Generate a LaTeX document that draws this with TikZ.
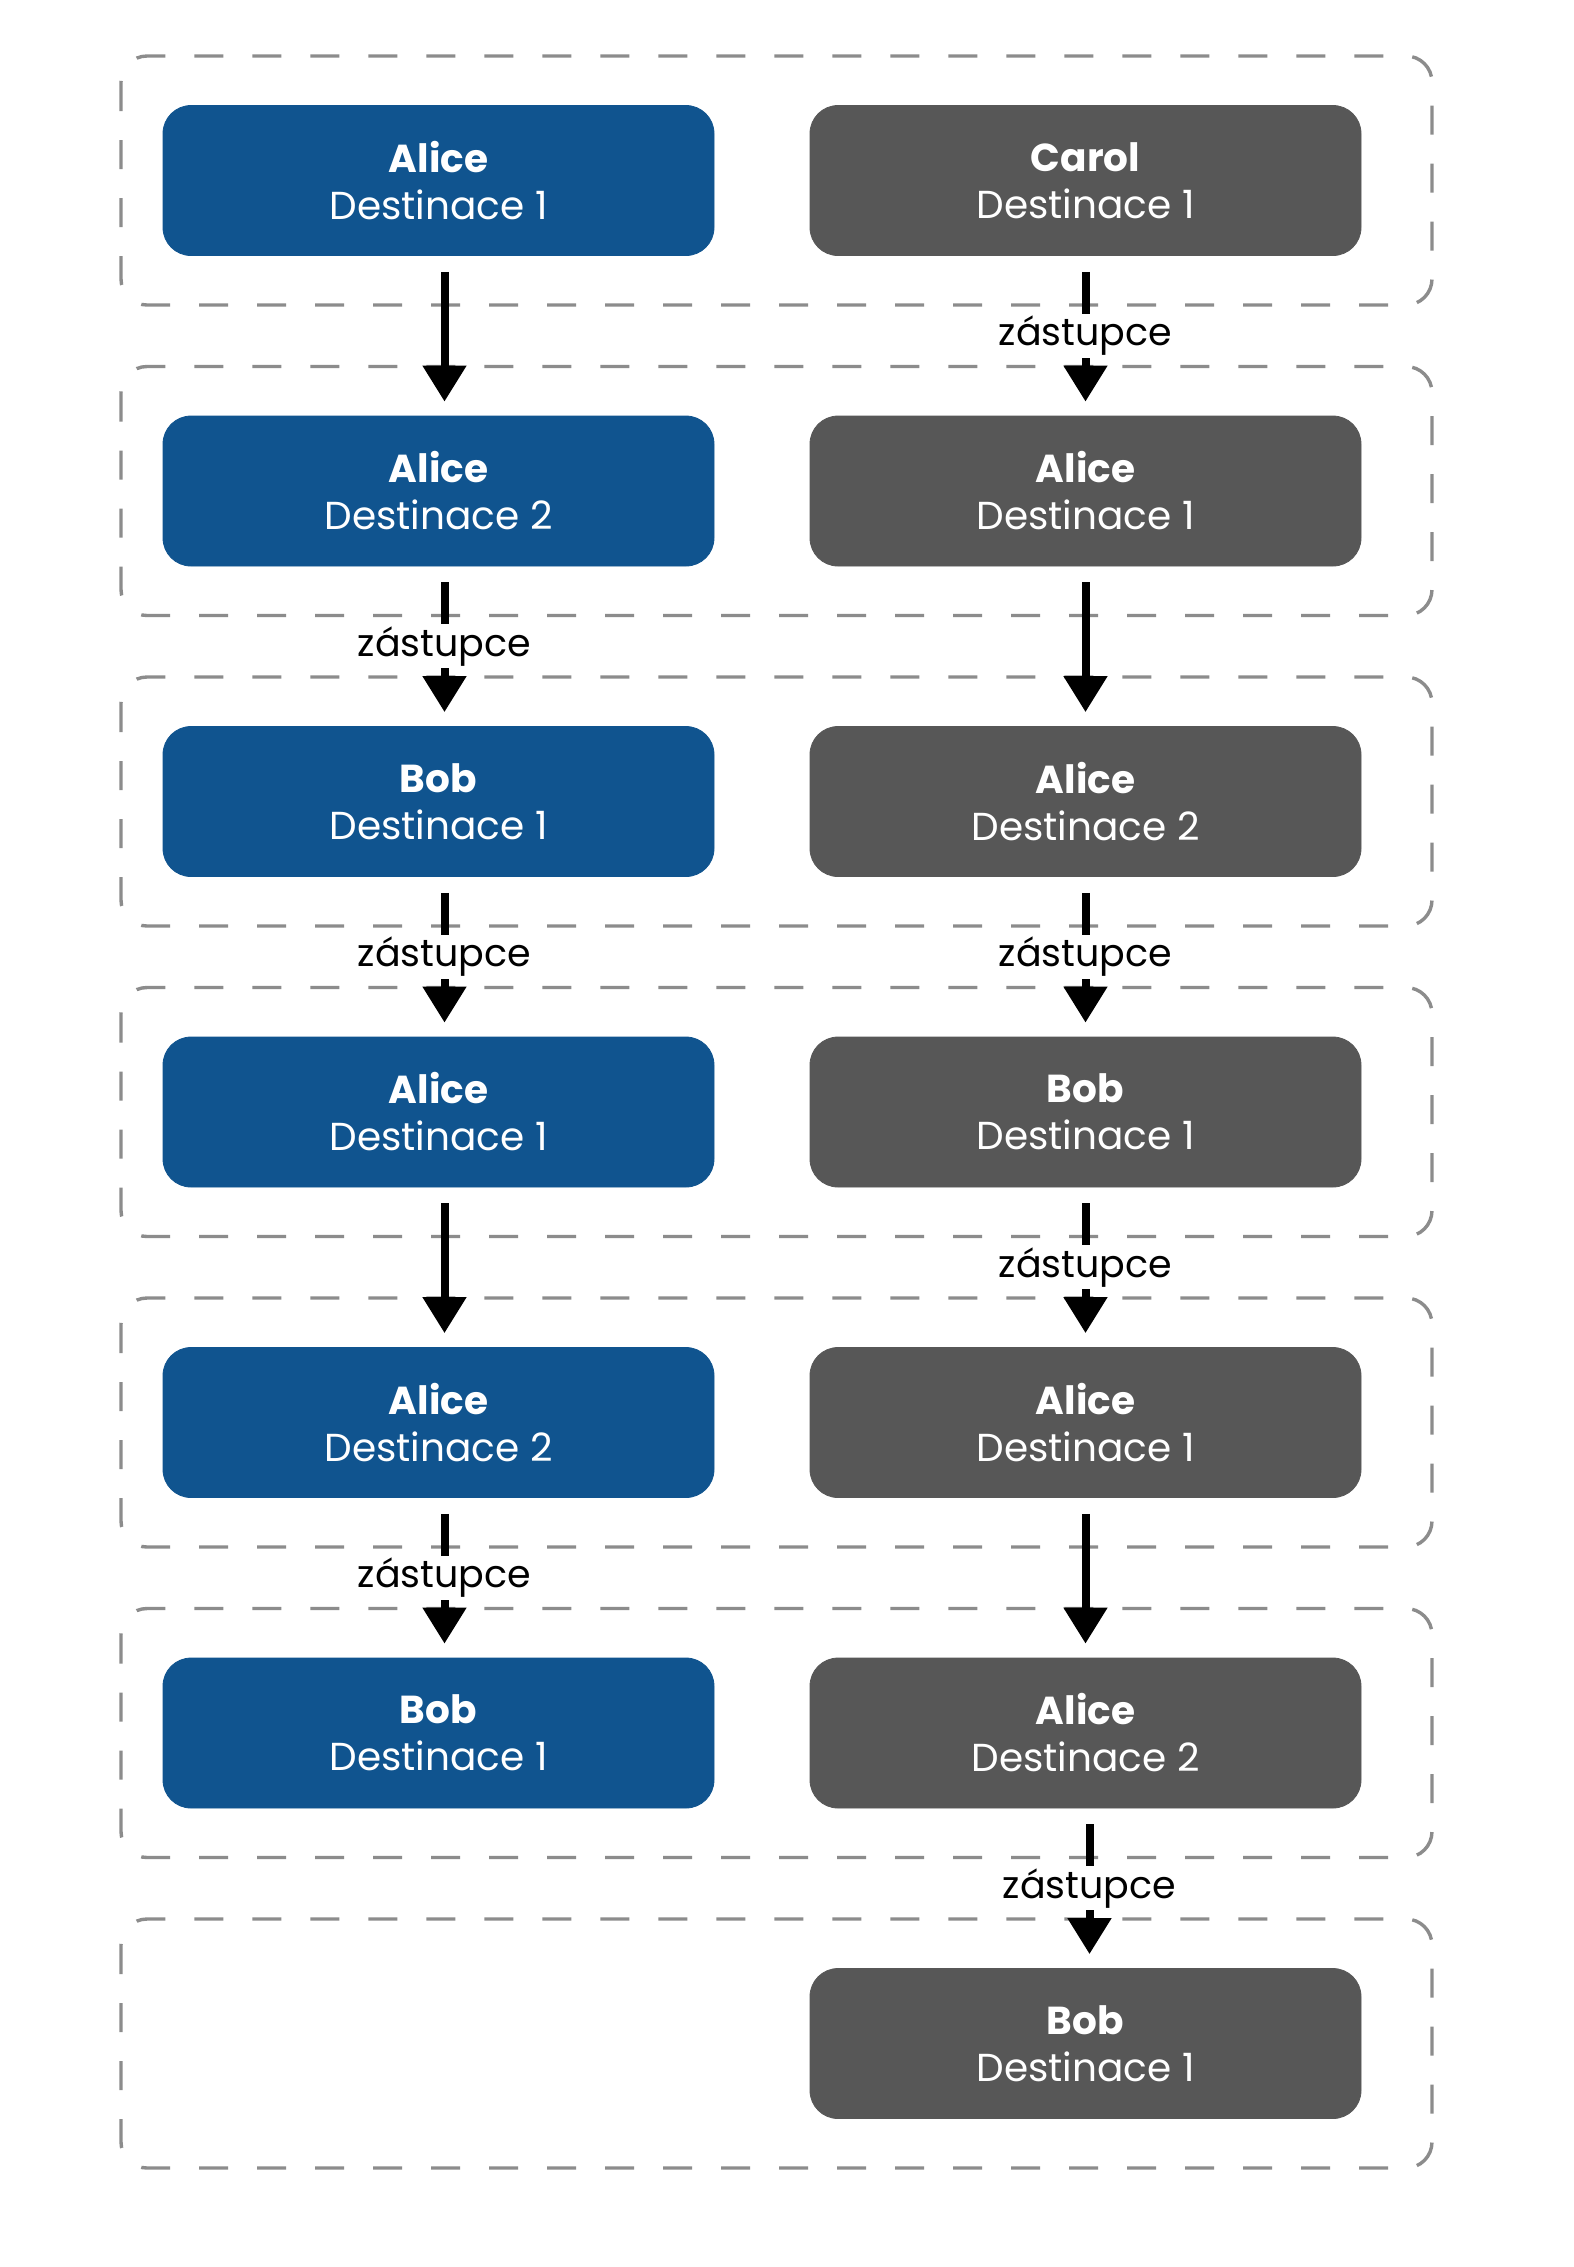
\documentclass[tikz,border=0pt]{standalone}
\usepackage{fontspec}
\setmainfont{Poppins}
\usetikzlibrary{arrows.meta}
\definecolor{boxblue}{HTML}{10548F}
\definecolor{boxgray}{HTML}{575757}
\definecolor{dashgray}{HTML}{8C8C8C}
\tikzset{
  group/.style={draw=dashgray, line width=1.7pt, dash pattern=on 14.5pt off 14.5pt, rounded corners=13pt},
  card/.style={minimum width=275.5pt, minimum height=75pt, rounded corners=14pt, text=white, align=center, font=\fontsize{19.5}{23.5}\selectfont, inner sep=0pt},
  bluecard/.style={card, fill=boxblue, draw=boxblue},
  graycard/.style={card, fill=boxgray, draw=boxgray},
  flow/.style={line width=4pt, -{Triangle[length=18pt,width=21pt]}, shorten <=8pt, shorten >=7pt},
  lbl/.style={midway, fill=white, inner sep=1pt, text=black, font=\fontsize{19}{23}\selectfont}
}
\newcommand{\cardtext}[2]{\textbf{#1}\\#2}
\begin{document}
\begin{tikzpicture}[x=0.5pt, y=-0.5pt]
\useasboundingbox[fill=white] (0,0) rectangle (1574,2267);
% dashed groups
\foreach \i in {0,...,6} {
  \draw[group] (121,{56+310.5*\i}) rectangle (1432,{305+310.5*\i});
}
% left column
\node[bluecard] (L1) at (438.5,180.5) {\cardtext{Alice}{Destinace 1}};
\node[bluecard] (L2) at (438.5,491) {\cardtext{Alice}{Destinace 2}};
\node[bluecard] (L3) at (438.5,801.5) {\cardtext{Bob}{Destinace 1}};
\node[bluecard] (L4) at (438.5,1112) {\cardtext{Alice}{Destinace 1}};
\node[bluecard] (L5) at (438.5,1422.5) {\cardtext{Alice}{Destinace 2}};
\node[bluecard] (L6) at (438.5,1733) {\cardtext{Bob}{Destinace 1}};
% right column
\node[graycard] (R1) at (1085.5,180.5) {\cardtext{Carol}{Destinace 1}};
\node[graycard] (R2) at (1085.5,491) {\cardtext{Alice}{Destinace 1}};
\node[graycard] (R3) at (1085.5,801.5) {\cardtext{Alice}{Destinace 2}};
\node[graycard] (R4) at (1085.5,1112) {\cardtext{Bob}{Destinace 1}};
\node[graycard] (R5) at (1085.5,1422.5) {\cardtext{Alice}{Destinace 1}};
\node[graycard] (R6) at (1085.5,1733) {\cardtext{Alice}{Destinace 2}};
\node[graycard] (R7) at (1085.5,2043.5) {\cardtext{Bob}{Destinace 1}};
% arrows
\draw[flow] ([xshift=3pt]L1.south) -- ([xshift=3pt]L2.north);
\draw[flow] ([xshift=3pt]L2.south) -- node[lbl] {zástupce} ([xshift=3pt]L3.north);
\draw[flow] ([xshift=3pt]L3.south) -- node[lbl] {zástupce} ([xshift=3pt]L4.north);
\draw[flow] ([xshift=3pt]L4.south) -- ([xshift=3pt]L5.north);
\draw[flow] ([xshift=3pt]L5.south) -- node[lbl] {zástupce} ([xshift=3pt]L6.north);
\draw[flow] (R1) -- node[lbl] {zástupce} (R2);
\draw[flow] (R2) -- (R3);
\draw[flow] (R3) -- node[lbl] {zástupce} (R4);
\draw[flow] (R4) -- node[lbl] {zástupce} (R5);
\draw[flow] (R5) -- (R6);
\draw[flow] ([xshift=2pt]R6.south) -- node[lbl] {zástupce} ([xshift=2pt]R7.north);
\end{tikzpicture}
\end{document}
